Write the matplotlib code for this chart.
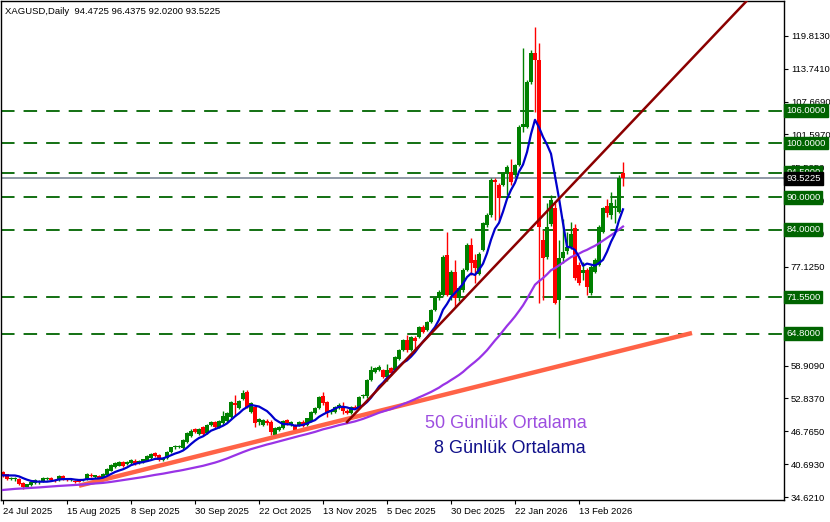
import matplotlib
matplotlib.use('Agg')
import matplotlib.pyplot as plt
import matplotlib.transforms as mtransforms
import pandas as pd

plt.rcParams['font.family'] = ['Liberation Sans', 'DejaVu Sans']

title_text = 'XAGUSD,Daily  94.4725 96.4375 92.0200 93.5225'

# closes before 24 Jul 2025 (only needed to warm up the moving averages)
pre_closes = [34.6, 34.7, 34.8, 34.9, 35.0, 35.1, 35.0, 34.9, 35.0, 35.1, 35.2, 35.3, 35.4,
              35.3, 35.5, 35.6, 35.4, 35.5, 35.7, 35.6, 35.4, 35.3, 35.5, 35.6, 35.8, 35.7,
              35.5, 35.4, 35.6, 35.5, 35.3, 35.4, 35.6, 35.7, 35.5, 35.4, 35.6, 35.8, 35.9,
              36.1, 36.0, 35.9, 38.0, 38.2, 38.2, 38.3, 39.1, 39.3, 39.3]

# daily candles from 24 Jul 2025 to 2 Mar 2026
opens = [39.18, 38.81, 37.89, 38.00, 38.00, 37.15, 36.52, 36.84, 37.15, 37.30,
         37.45, 38.00, 38.19, 37.70, 37.76, 38.56, 37.80, 37.75, 37.63, 37.76,
         37.80, 37.95, 38.60, 38.40, 38.50, 38.20, 38.69, 39.50, 40.10, 40.40,
         41.08, 40.70, 40.85, 41.30, 40.90, 41.03, 41.33, 41.77, 42.70, 42.38,
         41.46, 41.88, 43.00, 43.80, 43.90, 43.60, 44.80, 45.90, 47.18, 46.30,
         47.50, 46.50, 47.92, 48.42, 47.60, 48.20, 48.70, 49.45, 51.90, 51.00,
         52.70, 54.07, 50.40, 51.30, 48.40, 47.90, 48.73, 48.53, 46.10, 47.00,
         47.30, 48.85, 48.00, 47.90, 47.90, 48.50, 47.90, 48.53, 50.10, 51.00,
         53.27, 52.20, 50.30, 50.40, 51.00, 51.30, 50.60, 50.10, 51.30, 51.10,
         53.20, 53.20, 56.20, 57.80, 58.10, 58.08, 56.85, 58.40, 58.08, 60.20,
         61.78, 63.63, 61.78, 64.00, 64.20, 66.08, 65.47, 67.00, 69.17, 71.33,
         71.94, 79.33, 71.94, 76.24, 71.33, 72.86, 76.56, 81.18, 78.40, 75.90,
         80.25, 84.90, 86.70, 93.20, 92.30, 92.30, 94.40, 94.70, 94.10, 95.95,
         103.00, 103.00, 111.35, 116.60, 115.40, 82.10, 79.00, 85.00, 88.00, 71.00,
         78.70, 80.00, 80.80, 84.30, 77.50, 76.00, 76.56, 72.25, 76.24, 77.50,
         83.60, 88.30, 86.70, 88.00, 87.30, 94.4725]
highs = [39.35, 38.95, 38.40, 38.30, 38.10, 37.30, 37.10, 37.60, 37.90, 37.80,
         38.30, 38.30, 38.30, 37.90, 38.60, 38.70, 38.00, 38.00, 37.80, 37.90,
         38.00, 39.00, 39.00, 38.60, 38.70, 39.00, 39.90, 40.70, 41.00, 41.20,
         41.30, 41.30, 41.60, 41.70, 41.40, 41.70, 42.30, 42.70, 43.00, 42.50,
         42.00, 43.10, 43.95, 44.20, 44.30, 45.30, 46.60, 47.10, 47.40, 47.30,
         47.70, 48.10, 48.70, 48.70, 48.90, 50.50, 50.30, 52.40, 53.50, 52.60,
         54.40, 54.40, 52.10, 51.50, 49.20, 49.00, 49.00, 48.80, 47.50, 47.80,
         48.90, 49.00, 48.70, 48.10, 48.70, 48.90, 49.30, 50.50, 51.20, 53.30,
         54.07, 52.40, 50.90, 51.50, 52.00, 52.20, 50.90, 51.50, 51.60, 53.30,
         53.60, 56.40, 58.80, 58.60, 59.00, 58.30, 59.20, 58.70, 60.70, 62.00,
         63.90, 64.50, 64.40, 64.30, 66.30, 66.40, 67.20, 69.40, 71.50, 72.80,
         79.30, 83.60, 76.50, 78.40, 73.60, 76.90, 81.50, 82.40, 79.60, 79.90,
         85.50, 87.00, 93.50, 93.60, 92.60, 94.70, 96.00, 97.00, 96.20, 103.30,
         117.50, 111.70, 117.20, 121.50, 118.40, 84.00, 89.00, 90.40, 89.00, 82.10,
         86.00, 83.50, 85.50, 85.00, 78.00, 78.00, 77.00, 77.50, 78.80, 84.80,
         88.20, 89.70, 91.00, 89.70, 94.10, 96.4375]
lows = [38.40, 37.80, 37.75, 37.60, 36.80, 36.10, 36.30, 36.70, 37.00, 37.10,
        37.30, 37.80, 37.60, 37.40, 37.60, 37.80, 37.60, 37.60, 37.20, 37.30,
        37.60, 37.80, 38.30, 38.20, 37.90, 38.10, 38.60, 39.40, 40.00, 40.30,
        40.20, 40.50, 40.70, 40.60, 40.70, 40.90, 41.20, 41.60, 42.00, 41.30,
        41.30, 41.70, 42.80, 43.50, 43.60, 43.40, 44.60, 45.70, 46.50, 46.10,
        46.00, 46.30, 47.70, 47.30, 47.40, 48.00, 48.50, 49.30, 49.50, 50.80,
        52.50, 51.10, 50.20, 47.55, 48.00, 47.70, 48.00, 46.07, 45.90, 46.80,
        47.10, 48.00, 47.80, 46.80, 47.70, 47.50, 47.70, 48.40, 49.90, 50.80,
        51.70, 49.46, 50.00, 50.20, 50.80, 49.90, 49.90, 49.90, 50.80, 50.90,
        52.90, 53.00, 56.00, 57.50, 57.90, 56.60, 56.00, 57.20, 57.90, 60.00,
        61.60, 61.50, 61.60, 61.80, 64.00, 64.90, 65.30, 66.80, 69.00, 71.10,
        71.80, 71.70, 71.00, 69.70, 70.80, 72.50, 76.30, 75.60, 74.20, 75.60,
        80.00, 84.50, 86.40, 85.80, 85.80, 92.00, 90.50, 92.30, 93.80, 95.70,
        102.00, 102.70, 111.00, 105.80, 70.40, 71.00, 78.50, 84.60, 70.20, 64.00,
        77.80, 79.50, 80.50, 74.80, 73.80, 74.70, 71.90, 72.00, 76.00, 77.30,
        83.40, 86.40, 86.00, 85.30, 87.00, 92.02]
closes = [38.56, 37.95, 38.19, 38.05, 37.00, 36.52, 37.00, 37.45, 37.76, 37.65,
          38.19, 38.05, 37.76, 37.60, 38.50, 37.89, 37.75, 37.80, 37.34, 37.45,
          37.90, 38.87, 38.50, 38.45, 38.08, 38.87, 39.74, 40.53, 40.85, 41.03,
          40.40, 41.14, 41.46, 40.80, 41.30, 41.58, 42.20, 42.56, 42.20, 41.46,
          41.88, 42.99, 43.85, 44.00, 44.10, 45.15, 46.40, 46.90, 46.70, 47.10,
          46.26, 47.92, 48.53, 47.50, 48.73, 49.58, 50.10, 52.23, 51.60, 52.40,
          53.90, 51.30, 51.92, 48.35, 48.97, 48.85, 48.24, 46.68, 47.30, 47.60,
          48.73, 48.24, 48.50, 47.00, 48.50, 47.80, 49.16, 50.38, 51.00, 53.15,
          51.92, 50.08, 50.70, 51.30, 51.60, 50.50, 50.10, 51.30, 51.00, 53.15,
          53.40, 56.24, 58.08, 58.40, 58.70, 56.85, 58.08, 57.50, 60.54, 61.78,
          63.63, 61.78, 64.20, 63.40, 66.08, 65.16, 67.00, 69.17, 71.33, 72.55,
          79.00, 71.94, 76.24, 71.33, 73.20, 76.56, 81.18, 77.80, 76.87, 79.60,
          85.20, 86.70, 93.19, 92.90, 89.80, 94.40, 95.60, 92.90, 95.95, 103.00,
          103.60, 111.35, 116.60, 115.40, 84.55, 78.70, 84.55, 89.50, 70.40, 78.70,
          79.80, 80.80, 83.20, 75.10, 74.20, 76.60, 73.50, 77.20, 78.40, 84.55,
          87.95, 87.00, 88.90, 88.30, 93.50, 93.5225]

levels = [106.0, 100.0, 94.5, 90.0, 84.0, 71.55, 64.8]
last_price = 93.5225

# scale labels (the ones under the 64.80 and 71.55 boxes are hidden in the original)
price_ticks = [34.621, 40.693, 46.765, 52.837, 58.909, 77.125,
               83.381, 89.453, 95.525, 101.597, 107.669, 113.741, 119.813]

# trend lines: two anchor points each (bar number, price)
support_bars = [19, 172.25]
support_prices = [36.7, 64.92]
channel_bars = [86, 159.25]
channel_prices = [48.48, 105.5]

ma_fast_label = '8 Günlük Ortalama'
ma_slow_label = '50 Günlük Ortalama'

dates = pd.bdate_range('2025-07-24', periods=len(closes), freq='C',
                       holidays=['2025-12-25', '2026-01-01'])
x = list(range(len(closes)))

all_closes = pd.Series(pre_closes + closes)
sma8 = all_closes.rolling(8).mean().iloc[len(pre_closes):].values
sma50 = all_closes.rolling(50).mean().iloc[len(pre_closes):].values

fig = plt.figure(figsize=(8.3, 5.22), dpi=100)
ax = fig.add_axes([1 / 830, 22 / 522, 783 / 830, 499 / 522])

# levels
for lv in levels:
    ax.axhline(lv, color='#006400', lw=1.3, ls=(0, (7.5, 5)), zorder=1)
ax.axhline(last_price, color='#7c8797', lw=1.2, zorder=1)

# candles
up = '#008000'
down = '#ff0000'
for i in x:
    col = up if closes[i] >= opens[i] else down
    ax.vlines(i, lows[i], highs[i], color=col, lw=1.0, zorder=2)
    body = abs(closes[i] - opens[i])
    ax.bar(i, max(body, 0.2), bottom=min(opens[i], closes[i]), width=0.8,
           color=col, linewidth=0, zorder=2)

# trend lines
ax.plot(support_bars, support_prices, color='#ff6347', lw=3.2, solid_capstyle='butt', zorder=3)
slope = (channel_prices[1] - channel_prices[0]) / (channel_bars[1] - channel_bars[0])
ray_end = 200
ax.plot([channel_bars[0], ray_end],
        [channel_prices[0], channel_prices[0] + slope * (ray_end - channel_bars[0])],
        color='#8b0000', lw=1.8, zorder=5)

# moving averages
ax.plot(x, sma50, color='#9933e6', lw=1.6, zorder=4)
ax.plot(x, sma8, color='#0000cc', lw=1.6, zorder=4)

ax.set_xlim(-0.5, 195.25)
ax.set_ylim(34.067, 126.25)

tick_pos = list(range(0, len(closes), 16))
ax.set_xticks(tick_pos)
ax.set_xticklabels([f"{dates[i].day} {dates[i].strftime('%b %Y')}" for i in tick_pos],
                   ha='left', fontsize=6.8)
ax.tick_params(axis='x', length=3, width=0.8, pad=2)

ax.yaxis.tick_right()
ax.set_yticks(price_ticks)
ax.set_yticklabels([f'{p:.4f}' for p in price_ticks], fontsize=6.8)
ax.tick_params(axis='y', length=3, width=0.8, pad=2)

for s in ax.spines.values():
    s.set_color('black')
    s.set_linewidth(1)

# price boxes on the right axis
trans = mtransforms.blended_transform_factory(ax.transAxes, ax.transData)
for lv in levels:
    ax.text(1.003, lv, f'{lv:.4f}', transform=trans, ha='left', va='center', fontsize=6.8,
            color='white', clip_on=False, zorder=6,
            bbox=dict(boxstyle='square,pad=0.2', fc='#006400', ec='#006400'))
ax.text(1.003, last_price, f'{last_price:.4f}', transform=trans, ha='left', va='center',
        fontsize=6.8, color='white', clip_on=False, zorder=6,
        bbox=dict(boxstyle='square,pad=0.2', fc='black', ec='black'))

ax.text(0.005, 0.988, title_text, transform=ax.transAxes, ha='left', va='top', fontsize=6.8)
ax.text(0.5415, 0.154, ma_slow_label, transform=ax.transAxes, ha='left', va='center',
        fontsize=13, color='#9d4ee0')
ax.text(0.553, 0.104, ma_fast_label, transform=ax.transAxes, ha='left', va='center',
        fontsize=13, color='#10108a')

fig.savefig('out.png', dpi=100)
